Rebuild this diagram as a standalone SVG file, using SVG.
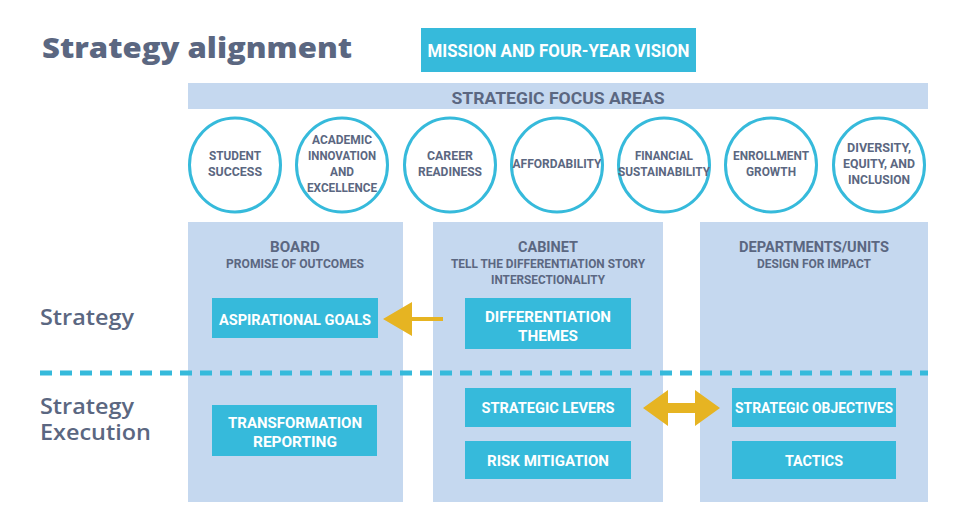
<svg xmlns="http://www.w3.org/2000/svg" width="977" height="523" viewBox="0 0 977 523">
<style>
  .bg { fill: #ffffff; }
  .panel { fill: #c5d8ef; }
  .box { fill: #36badb; }
  .circ { fill: #ffffff; stroke: #36badb; stroke-width: 3; }
  .t { font-family: Roboto, "Liberation Sans", sans-serif; font-weight: 700; fill: #5b6781; text-anchor: middle; }
  .w { font-family: Roboto, "Liberation Sans", sans-serif; font-weight: 700; fill: #ffffff; text-anchor: middle; font-size: 15px; }
  .c { font-size: 13px; }
  .h { font-size: 14.5px; }
  .s { font-size: 12px; }
  .side { font-family: "Open Sans", "Liberation Sans", sans-serif; font-weight: 600; fill: #5b6781; font-size: 21px; }
  .gold { fill: #e6b422; }
</style>
<rect class="bg" x="0" y="0" width="977" height="523"/>

<text id="title" x="42" y="58" font-family="'Open Sans', 'Liberation Sans', sans-serif" font-weight="800" font-size="29" fill="#5b6781" textLength="310" lengthAdjust="spacingAndGlyphs">Strategy alignment</text>

<g id="mission">
  <rect class="box" x="421" y="28" width="275" height="44"/>
  <text class="w" x="558.5" y="57" style="font-size:18px" textLength="262" lengthAdjust="spacingAndGlyphs">MISSION AND FOUR-YEAR VISION</text>
</g>

<g id="focus-areas">
  <rect class="panel" x="188" y="83" width="740" height="26"/>
  <text class="t" x="558" y="104" style="font-size:17px" textLength="213" lengthAdjust="spacingAndGlyphs">STRATEGIC FOCUS AREAS</text>
</g>

<g id="fa-student">
  <ellipse class="circ" cx="235" cy="165" rx="45.5" ry="47"/>
  <text class="t c" x="235" y="160" textLength="52" lengthAdjust="spacingAndGlyphs">STUDENT</text>
  <text class="t c" x="235" y="176" textLength="54" lengthAdjust="spacingAndGlyphs">SUCCESS</text>
</g>
<g id="fa-academic">
  <ellipse class="circ" cx="342" cy="165" rx="45.5" ry="47"/>
  <text class="t c" x="342" y="144" textLength="60" lengthAdjust="spacingAndGlyphs">ACADEMIC</text>
  <text class="t c" x="342" y="160" textLength="68" lengthAdjust="spacingAndGlyphs">INNOVATION</text>
  <text class="t c" x="342" y="176" textLength="24" lengthAdjust="spacingAndGlyphs">AND</text>
  <text class="t c" x="342" y="192" textLength="70" lengthAdjust="spacingAndGlyphs">EXCELLENCE</text>
</g>
<g id="fa-career">
  <ellipse class="circ" cx="450" cy="165" rx="45.5" ry="47"/>
  <text class="t c" x="450" y="160" textLength="46" lengthAdjust="spacingAndGlyphs">CAREER</text>
  <text class="t c" x="450" y="176" textLength="64" lengthAdjust="spacingAndGlyphs">READINESS</text>
</g>
<g id="fa-affordability">
  <ellipse class="circ" cx="557" cy="165" rx="45.5" ry="47"/>
  <text class="t c" x="557" y="168" textLength="89" lengthAdjust="spacingAndGlyphs">AFFORDABILITY</text>
</g>
<g id="fa-financial">
  <ellipse class="circ" cx="664" cy="165" rx="45.5" ry="47"/>
  <text class="t c" x="664" y="160" textLength="58" lengthAdjust="spacingAndGlyphs">FINANCIAL</text>
  <text class="t c" x="664" y="176" textLength="92" lengthAdjust="spacingAndGlyphs">SUSTAINABILITY</text>
</g>
<g id="fa-enrollment">
  <ellipse class="circ" cx="771" cy="165" rx="45.5" ry="47"/>
  <text class="t c" x="771" y="160" textLength="76" lengthAdjust="spacingAndGlyphs">ENROLLMENT</text>
  <text class="t c" x="771" y="176" textLength="50" lengthAdjust="spacingAndGlyphs">GROWTH</text>
</g>
<g id="fa-diversity">
  <ellipse class="circ" cx="879" cy="165" rx="45.5" ry="47"/>
  <text class="t c" x="879" y="152" textLength="64" lengthAdjust="spacingAndGlyphs">DIVERSITY,</text>
  <text class="t c" x="879" y="168" textLength="72" lengthAdjust="spacingAndGlyphs">EQUITY, AND</text>
  <text class="t c" x="879" y="184" textLength="62" lengthAdjust="spacingAndGlyphs">INCLUSION</text>
</g>

<g id="board">
  <rect class="panel" x="188" y="222" width="215" height="280"/>
  <text class="t h" x="295" y="252" textLength="50" lengthAdjust="spacingAndGlyphs">BOARD</text>
  <text class="t s" x="295" y="268" textLength="138" lengthAdjust="spacingAndGlyphs">PROMISE OF OUTCOMES</text>
</g>
<g id="cabinet">
  <rect class="panel" x="433" y="222" width="230" height="280"/>
  <text class="t h" x="548" y="252" textLength="60" lengthAdjust="spacingAndGlyphs">CABINET</text>
  <text class="t s" x="548" y="268" textLength="194" lengthAdjust="spacingAndGlyphs">TELL THE DIFFERENTIATION STORY</text>
  <text class="t s" x="548" y="284" textLength="114" lengthAdjust="spacingAndGlyphs">INTERSECTIONALITY</text>
</g>
<g id="departments">
  <rect class="panel" x="700" y="222" width="228" height="280"/>
  <text class="t h" x="814" y="252" textLength="150" lengthAdjust="spacingAndGlyphs">DEPARTMENTS/UNITS</text>
  <text class="t s" x="814" y="268" textLength="114" lengthAdjust="spacingAndGlyphs">DESIGN FOR IMPACT</text>
</g>

<text id="lbl-strategy" class="side" x="40" y="325" textLength="94" lengthAdjust="spacingAndGlyphs">Strategy</text>
<text id="lbl-exec1" class="side" x="40" y="414" textLength="94" lengthAdjust="spacingAndGlyphs">Strategy</text>
<text id="lbl-exec2" class="side" x="40" y="440" textLength="111" lengthAdjust="spacingAndGlyphs">Execution</text>

<line id="divider" x1="40" y1="373" x2="928" y2="373" stroke="#36badb" stroke-width="5" stroke-dasharray="12 8"/>

<g id="aspirational-goals">
  <rect class="box" x="212" y="298" width="166" height="40"/>
  <text class="w" x="295" y="325" textLength="152" lengthAdjust="spacingAndGlyphs">ASPIRATIONAL GOALS</text>
</g>
<g id="differentiation-themes">
  <rect class="box" x="465" y="298" width="166" height="51"/>
  <text class="w" x="548" y="322" textLength="126" lengthAdjust="spacingAndGlyphs">DIFFERENTIATION</text>
  <text class="w" x="548" y="341" textLength="60" lengthAdjust="spacingAndGlyphs">THEMES</text>
</g>
<g id="transformation-reporting">
  <rect class="box" x="212" y="405" width="165" height="51"/>
  <text class="w" x="295" y="428" textLength="134" lengthAdjust="spacingAndGlyphs">TRANSFORMATION</text>
  <text class="w" x="295" y="447" textLength="84" lengthAdjust="spacingAndGlyphs">REPORTING</text>
</g>
<g id="strategic-levers">
  <rect class="box" x="465" y="388" width="166" height="39"/>
  <text class="w" x="548" y="413" textLength="133" lengthAdjust="spacingAndGlyphs">STRATEGIC LEVERS</text>
</g>
<g id="risk-mitigation">
  <rect class="box" x="465" y="441" width="166" height="38"/>
  <text class="w" x="548" y="466" textLength="122" lengthAdjust="spacingAndGlyphs">RISK MITIGATION</text>
</g>
<g id="strategic-objectives">
  <rect class="box" x="732" y="388" width="164" height="39"/>
  <text class="w" x="814" y="413" textLength="158" lengthAdjust="spacingAndGlyphs">STRATEGIC OBJECTIVES</text>
</g>
<g id="tactics">
  <rect class="box" x="732" y="441" width="164" height="38"/>
  <text class="w" x="814" y="466" textLength="58" lengthAdjust="spacingAndGlyphs">TACTICS</text>
</g>

<g id="connectors">
  <path class="gold" d="M443 317 L412 317 L412 302 L383 319 L412 336 L412 321 L443 321 Z"/>
  <path class="gold" d="M643 408 L668 390 L668 403 L695 403 L695 390 L720 408 L695 426 L695 413 L668 413 L668 426 Z"/>
</g>
</svg>
